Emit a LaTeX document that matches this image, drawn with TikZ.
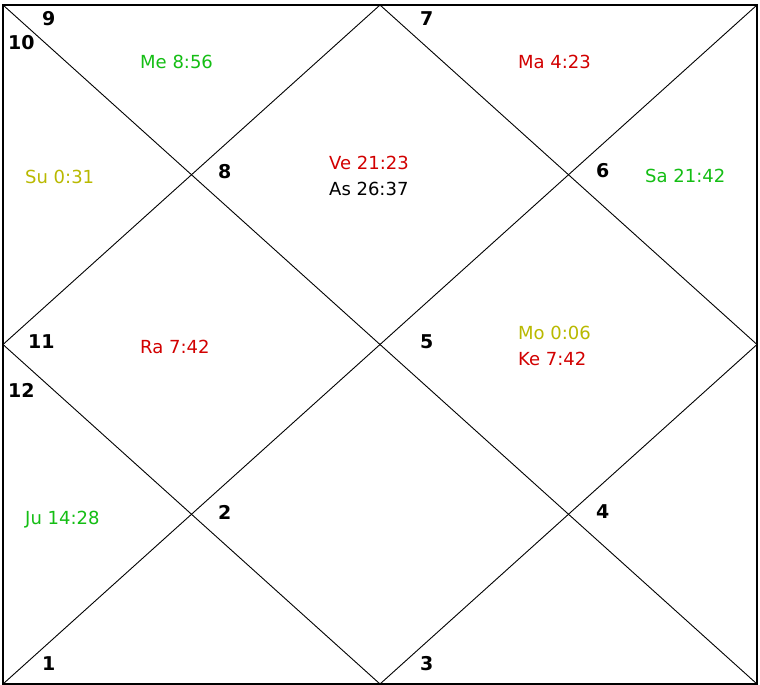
\documentclass[tikz,border=0pt]{standalone}
\usepackage{fontspec}
\setmainfont{DejaVu Sans}
\definecolor{pgreen}{RGB}{20,190,20}
\definecolor{pred}{RGB}{210,0,0}
\definecolor{polive}{RGB}{185,185,0}
\begin{document}
\begin{tikzpicture}[x=1pt,y=-1pt,
  num/.style={anchor=base west,inner sep=0pt,font=\fontsize{19}{21}\selectfont\bfseries},
  pl/.style={anchor=base west,inner sep=0pt,font=\fontsize{18}{20}\selectfont},
  ln/.style={line width=0.9pt,black}]
\useasboundingbox (0,0) rectangle (760,685);
\fill[white] (0,0) rectangle (760,685);
\coordinate (tl) at (3,5);
\coordinate (tr) at (757,5);
\coordinate (br) at (757,684);
\coordinate (bl) at (3,684);
\coordinate (tm) at (380,5);
\coordinate (rm) at (757,344.5);
\coordinate (bm) at (380,684);
\coordinate (lm) at (3,344.5);
\draw[line width=1.8pt] (tl) rectangle (br);
\draw[ln] (tl) -- (br);
\draw[ln] (tr) -- (bl);
\draw[ln] (tm) -- (rm) -- (bm) -- (lm) -- cycle;
% house numbers
\node[num] (n9) at (42,26) {9};
\node[num] (n10) at (8,50) {10};
\node[num] (n7) at (420,26) {7};
\node[num] (n8) at (218,178) {8};
\node[num] (n6) at (596,177) {6};
\node[num] (n11) at (28,348) {11};
\node[num] (n5) at (420,348) {5};
\node[num] (n12) at (8,397) {12};
\node[num] (n2) at (218,519) {2};
\node[num] (n4) at (596,518) {4};
\node[num] (n1) at (42,670) {1};
\node[num] (n3) at (420,670) {3};
% planets
\node[pl,text=pgreen] (me) at (140,68.5) {Me 8:56};
\node[pl,text=pred] (ma) at (518,68.5) {Ma 4:23};
\node[pl,text=polive] (su) at (25,183) {Su 0:31};
\node[pl,text=pred] (ve) at (329,169) {Ve 21:23};
\node[pl,text=black] (as) at (329,195) {As 26:37};
\node[pl,text=pgreen] (sa) at (645,182) {Sa 21:42};
\node[pl,text=pred] (ra) at (140,353) {Ra 7:42};
\node[pl,text=polive] (mo) at (518,339) {Mo 0:06};
\node[pl,text=pred] (ke) at (518,365) {Ke 7:42};
\node[pl,text=pgreen] (ju) at (25,524) {Ju 14:28};
\end{tikzpicture}
\end{document}
